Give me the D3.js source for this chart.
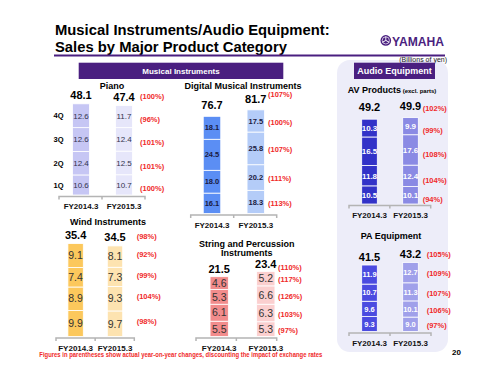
<!DOCTYPE html>
<html lang="en">

<head>
    <meta charset="UTF-8">
    <title>Musical Instruments/Audio Equipment: Sales by Major Product Category</title>
    <script src="https://d3js.org/d3.v7.min.js"></script>
    <style>
        body { margin: 0; background: #fff; }
        text { font-family: "Liberation Sans", Arial, sans-serif; }
    </style>
</head>

<body>
    <svg id="chart" width="500" height="375"></svg>

    <script>
        // data (billions of yen), quarters listed 1Q..4Q
        var years = ["FY2014.3", "FY2015.3"];
        var quarters = ["1Q", "2Q", "3Q", "4Q"];

        var pianoQ = [[10.6, 12.4, 12.6, 12.6], [10.7, 12.5, 12.4, 11.7]];
        var pianoTotal = [48.1, 47.4];
        var pianoYoY = ["(100%)", "(101%)", "(101%)", "(96%)"];
        var pianoTotalYoY = "(100%)";

        var digitalQ = [[16.1, 18.0, 24.5, 18.1], [18.3, 20.2, 25.8, 17.5]];
        var digitalTotal = [76.7, 81.7];
        var digitalYoY = ["(113%)", "(111%)", "(107%)", "(100%)"];
        var digitalTotalYoY = "(107%)";

        var avQ = [[10.5, 11.8, 16.5, 10.3], [10.1, 12.4, 17.6, 9.9]];
        var avTotal = [49.2, 49.9];
        var avYoY = ["(94%)", "(104%)", "(108%)", "(99%)"];
        var avTotalYoY = "(102%)";

        var windQ = [[9.9, 8.9, 7.4, 9.1], [9.7, 9.3, 7.3, 8.1]];
        var windTotal = [35.4, 34.5];
        var windYoY = ["(98%)", "(104%)", "(99%)", "(92%)"];
        var windTotalYoY = "(98%)";

        var stringQ = [[5.5, 6.1, 5.3, 4.6], [5.3, 6.3, 6.6, 5.2]];
        var stringTotal = [21.5, 23.4];
        var stringYoY = ["(97%)", "(103%)", "(126%)", "(117%)"];
        var stringTotalYoY = "(110%)";

        var paQ = [[9.3, 9.6, 10.7, 11.9], [9.0, 10.1, 11.3, 12.7]];
        var paTotal = [41.5, 43.2];
        var paYoY = ["(97%)", "(106%)", "(107%)", "(109%)"];
        var paTotalYoY = "(105%)";

        var purple = "#4a1f80";
        var red = "#f02a2a";

        var svg = d3.select("#chart");

        // audio equipment panel background
        svg.append("rect")
            .attr("x", 337).attr("y", 60).attr("width", 111).attr("height", 292)
            .attr("rx", 13).attr("fill", "#ededf9");

        // title
        var title = svg.append("g").attr("font-weight", "bold").attr("font-size", 14.8);
        title.append("text").attr("x", 55).attr("y", 35).text("Musical Instruments/Audio Equipment:");
        title.append("text").attr("x", 55).attr("y", 52).text("Sales by Major Product Category");
        svg.append("line")
            .attr("x1", 54).attr("x2", 445).attr("y1", 55.5).attr("y2", 55.5)
            .attr("stroke", purple).attr("stroke-width", 1.8);

        // logo
        var logo = svg.append("g").attr("fill", purple);
        logo.append("circle").attr("cx", 385.8).attr("cy", 40.4).attr("r", 5.3);
        logo.append("circle").attr("cx", 385.8).attr("cy", 40.4).attr("r", 3.6)
            .attr("fill", "none").attr("stroke", "#fff").attr("stroke-width", 0.7);
        [0, 120, 240].forEach(function (a) {
            logo.append("line")
                .attr("x1", 385.8).attr("y1", 40.4).attr("x2", 385.8).attr("y2", 36.4)
                .attr("transform", "rotate(" + a + ",385.8,40.4)")
                .attr("stroke", "#fff").attr("stroke-width", 0.9);
        });
        logo.append("text").attr("x", 392).attr("y", 45.8)
            .attr("font-size", 13.5).attr("font-weight", "bold")
            .attr("textLength", 52).attr("lengthAdjust", "spacingAndGlyphs")
            .text("YAMAHA");

        svg.append("text").attr("x", 447).attr("y", 61.5).attr("text-anchor", "end")
            .attr("font-size", 7).attr("fill", "#222").text("(Billions of yen)");

        // section headers
        svg.append("rect").attr("x", 78.7).attr("y", 62.7).attr("width", 204.6).attr("height", 16.3).attr("fill", purple);
        svg.append("text").attr("x", 181).attr("y", 74).attr("text-anchor", "middle")
            .attr("fill", "#fff").attr("font-weight", "bold").attr("font-size", 8).text("Musical Instruments");
        svg.append("rect").attr("x", 354).attr("y", 62.7).attr("width", 81).attr("height", 16.3).attr("fill", purple);
        svg.append("text").attr("x", 394.5).attr("y", 74.3).attr("text-anchor", "middle")
            .attr("fill", "#fff").attr("font-weight", "bold").attr("font-size", 9).text("Audio Equipment");

        var panels = [
            {
                title: ["Piano"], titleX: 112, titleY: 89, values: pianoQ, totals: pianoTotal, yoy: pianoYoY, totalYoY: pianoTotalYoY,
                centers: [81, 124], barW: 17, axis: [59, 145], base: 195, top: 104, totalDy: -5, yoyX: 140, yoyDy: 3, totalYoYDy: -7,
                colors: ["#c6c6f4", "#e6e6fa"], seg: { size: 8, weight: "normal", fill: "#33334d" }, showQuarters: true
            },
            {
                title: ["Digital Musical Instruments"], titleX: 243, titleY: 89.3, values: digitalQ, totals: digitalTotal, yoy: digitalYoY, totalYoY: digitalTotalYoY,
                centers: [212, 255.8], barW: 17.5, axis: [190.7, 276.7], base: 213.5, top: 110, totalDy: -7, yoyX: 268, yoyDy: 1, totalYoYDy: -13,
                colors: ["#5b8ef4", "#b4ccf8"], seg: { size: 7.5, weight: "bold", fill: "#1a1a40" }
            },
            {
                title: ["AV Products"], sub: " (excl. parts)", titleX: 392, titleY: 92.7, values: avQ, totals: avTotal, yoy: avYoY, totalYoY: avTotalYoY,
                centers: [369.5, 410.5], barW: 15.6, axis: [349, 430.7], base: 204, top: 117.8, totalDy: -8, yoyX: 422.7, yoyDy: 4, totalYoYDy: -7,
                colors: ["#3232c8", "#8a8ae4"], seg: { size: 8, weight: "bold", fill: "#fff" }
            },
            {
                title: ["Wind Instruments"], titleX: 108, titleY: 225, values: windQ, totals: windTotal, yoy: windYoY, totalYoY: windTotalYoY,
                centers: [75.6, 115], barW: 15.4, axis: [56, 134.3], base: 336.5, top: 243.3, totalDy: -4.5, yoyX: 136.7, yoyDy: -2, totalYoYDy: -7,
                colors: ["#fcc85c", "#fde3b0"], seg: { size: 10.5, weight: "normal", fill: "#333" }
            },
            {
                title: ["String and Percussion", "Instruments"], titleX: 246.7, titleY: 246.5, values: stringQ, totals: stringTotal, yoy: stringYoY, totalYoY: stringTotalYoY,
                centers: [219.2, 265.8], barW: 18.3, axis: [196, 276.7], base: 336.5, top: 271.4, totalDy: -3.5, yoyX: 278, yoyDy: 1, totalYoYDy: -1,
                colors: ["#f28c8c", "#fbcfcf"], seg: { size: 10.5, weight: "normal", fill: "#333" }
            },
            {
                title: ["PA Equipment"], titleX: 391, titleY: 239.3, values: paQ, totals: paTotal, yoy: paYoY, totalYoY: paTotalYoY,
                centers: [369.5, 410.5], barW: 15.6, axis: [349, 431], base: 331.5, top: 262.3, totalDy: -4.5, yoyX: 426.7, yoyDy: 1, totalYoYDy: -5,
                colors: ["#4b4be0", "#a0a0ea"], seg: { size: 7.5, weight: "bold", fill: "#fff" }
            }
        ];

        panels.forEach(function (p) {
            var g = svg.append("g");
            var x = d3.scalePoint().domain(years).range(p.centers);
            var y = d3.scaleLinear().domain([0, d3.max(p.totals)]).range([p.base, p.top]);

            // panel title
            var t = g.append("text").attr("x", p.titleX).attr("y", p.titleY)
                .attr("text-anchor", "middle").attr("font-weight", "bold").attr("font-size", 9);
            p.title.forEach(function (line, i) {
                t.append("tspan").attr("x", p.titleX).attr("dy", i ? 9 : 0).text(line);
            });
            if (p.sub) t.append("tspan").attr("font-size", 6).text(p.sub);

            // stacked bars
            var rows = years.map(function (yr, i) {
                var r = { year: yr };
                quarters.forEach(function (q, j) { r[q] = p.values[i][j]; });
                return r;
            });
            var series = d3.stack().keys(quarters)(rows);

            series.forEach(function (s, j) {
                s.forEach(function (d, i) {
                    var yr = d.data.year;
                    g.append("rect")
                        .attr("x", x(yr) - p.barW / 2).attr("width", p.barW)
                        .attr("y", y(d[1])).attr("height", y(d[0]) - y(d[1]))
                        .attr("fill", p.colors[i]).attr("stroke", "#fff").attr("stroke-width", 0.8);
                    g.append("text")
                        .attr("x", x(yr)).attr("y", (y(d[0]) + y(d[1])) / 2).attr("dy", "0.36em")
                        .attr("text-anchor", "middle").attr("font-size", p.seg.size)
                        .attr("font-weight", p.seg.weight).attr("fill", p.seg.fill)
                        .text(d3.format(".1f")(p.values[i][j]));
                    if (i === 1) {
                        g.append("text")
                            .attr("x", p.yoyX).attr("y", (y(d[0]) + y(d[1])) / 2 + p.yoyDy).attr("dy", "0.36em")
                            .attr("font-size", 7.5).attr("font-weight", "bold").attr("fill", red)
                            .text(p.yoy[j]);
                    }
                    if (i === 0 && p.showQuarters) {
                        g.append("text")
                            .attr("x", 58.5).attr("y", (y(d[0]) + y(d[1])) / 2).attr("dy", "0.36em")
                            .attr("text-anchor", "middle").attr("font-size", 7.5).attr("font-weight", "bold")
                            .text(quarters[j]);
                    }
                });
            });

            // totals
            years.forEach(function (yr, i) {
                var top = y(d3.sum(p.values[i]));
                g.append("text").attr("x", x(yr)).attr("y", top + p.totalDy)
                    .attr("text-anchor", "middle").attr("font-size", 11).attr("font-weight", "bold")
                    .text(d3.format(".1f")(p.totals[i]));
            });
            g.append("text").attr("x", p.yoyX).attr("y", y(d3.sum(p.values[1])) + p.totalYoYDy)
                .attr("font-size", 7.5).attr("font-weight", "bold").attr("fill", red)
                .text(p.totalYoY);

            // axis
            var ay = p.base + 1.5, mid = (p.axis[0] + p.axis[1]) / 2;
            g.append("path")
                .attr("d", "M" + p.axis[0] + "," + (ay + 3) + "V" + ay + "H" + p.axis[1] + "V" + (ay + 3) +
                    "M" + mid + "," + ay + "V" + (ay + 3))
                .attr("fill", "none").attr("stroke", "#b4b4b4").attr("stroke-width", 1.5);
            years.forEach(function (yr) {
                g.append("text").attr("x", x(yr)).attr("y", ay + 12.5)
                    .attr("text-anchor", "middle").attr("font-size", 8).attr("font-weight", "bold").attr("fill", "#111")
                    .text(yr);
            });
        });

        // footnote and page number
        svg.append("text").attr("x", 39.3).attr("y", 357)
            .attr("font-size", 6.3).attr("font-weight", "bold").attr("fill", red)
            .attr("textLength", 283).attr("lengthAdjust", "spacingAndGlyphs")
            .text("Figures in parentheses show actual year-on-year changes, discounting the impact of exchange rates");
        svg.append("text").attr("x", 452).attr("y", 354.5)
            .attr("font-size", 8).attr("font-weight", "bold").text("20");
    </script>
</body>

</html>
